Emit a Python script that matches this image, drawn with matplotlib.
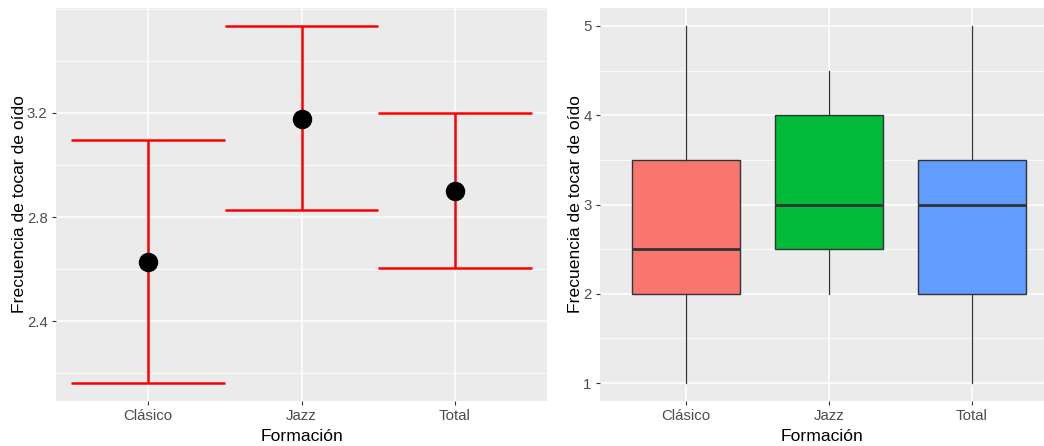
import matplotlib
matplotlib.use("Agg")
from matplotlib import pyplot as plt
from matplotlib.ticker import MultipleLocator

plt.rcParams['font.family'] = ['Liberation Sans', 'DejaVu Sans']

categorias = ["Clásico", "Jazz", "Total"]

# panel izquierdo: media e intervalo
medias = [2.626, 3.177, 2.900]
inferior = [2.163, 2.827, 2.605]
superior = [3.097, 3.533, 3.200]

# panel derecho: resumen de boxplot
minimos = [1.0, 2.0, 1.0]
q1 = [2.0, 2.5, 2.0]
medianas = [2.5, 3.0, 3.0]
q3 = [3.5, 4.0, 3.5]
maximos = [5.0, 4.5, 5.0]
colores = ["#F8766D", "#00BA38", "#619CFF"]

W, H = 1044, 446
fig = plt.figure(figsize=(W / 100, H / 100), dpi=100)

def estilo(ax):
    ax.set_facecolor("#EBEBEB")
    for s in ax.spines.values():
        s.set_visible(False)
    ax.grid(which="major", color="white", linewidth=1.1)
    ax.grid(which="minor", axis="y", color="white", linewidth=0.55)
    ax.set_axisbelow(True)
    ax.tick_params(which="major", length=3, width=0.8, color="#333333",
                   labelcolor="#4D4D4D", labelsize=10.8, pad=3)
    ax.tick_params(which="minor", length=0)
    ax.set_xlabel("Formación", fontsize=12.6, labelpad=4)
    ax.set_ylabel("Frecuencia de tocar de oído", fontsize=12.6, labelpad=0)

x = [1, 2, 3]

# izquierda
ax1 = fig.add_axes([56 / W, (H - 401) / H, 491 / W, 393 / H])
estilo(ax1)
ax1.vlines(x, inferior, superior, color="red", linewidth=1.8, zorder=2)
ax1.hlines(inferior, [v - 0.5 for v in x], [v + 0.5 for v in x], color="red", linewidth=1.8, zorder=2)
ax1.hlines(superior, [v - 0.5 for v in x], [v + 0.5 for v in x], color="red", linewidth=1.8, zorder=2)
ax1.plot(x, medias, "o", color="black", markersize=13, zorder=3)
ax1.set_xlim(0.4, 3.6)
ax1.set_ylim(2.094, 3.602)
ax1.yaxis.set_minor_locator(MultipleLocator(0.2))
ax1.set_xticks(x)
ax1.set_xticklabels(categorias)
ax1.set_yticks([2.4, 2.8, 3.2])
ax1.set_yticklabels(["2.4", "2.8", "3.2"])

# derecha
ax2 = fig.add_axes([600 / W, (H - 401) / H, 444 / W, 393 / H])
estilo(ax2)
stats = []
for i, c in enumerate(categorias):
    stats.append(dict(label=c, whislo=minimos[i], q1=q1[i], med=medianas[i],
                      q3=q3[i], whishi=maximos[i], fliers=[]))
bp = ax2.bxp(stats, positions=x, widths=0.75, patch_artist=True, showcaps=False,
             boxprops=dict(edgecolor="#333333", linewidth=1.0),
             whiskerprops=dict(color="#333333", linewidth=0.9),
             medianprops=dict(color="#333333", linewidth=2.0))
for patch, col in zip(bp["boxes"], colores):
    patch.set_facecolor(col)
ax2.set_xlim(0.4, 3.503)
ax2.set_ylim(0.8, 5.2)
ax2.yaxis.set_major_locator(MultipleLocator(1))
ax2.yaxis.set_minor_locator(MultipleLocator(0.5))
ax2.set_xticks(x)
ax2.set_xticklabels(categorias)

plt.savefig("out.png", dpi=100)
